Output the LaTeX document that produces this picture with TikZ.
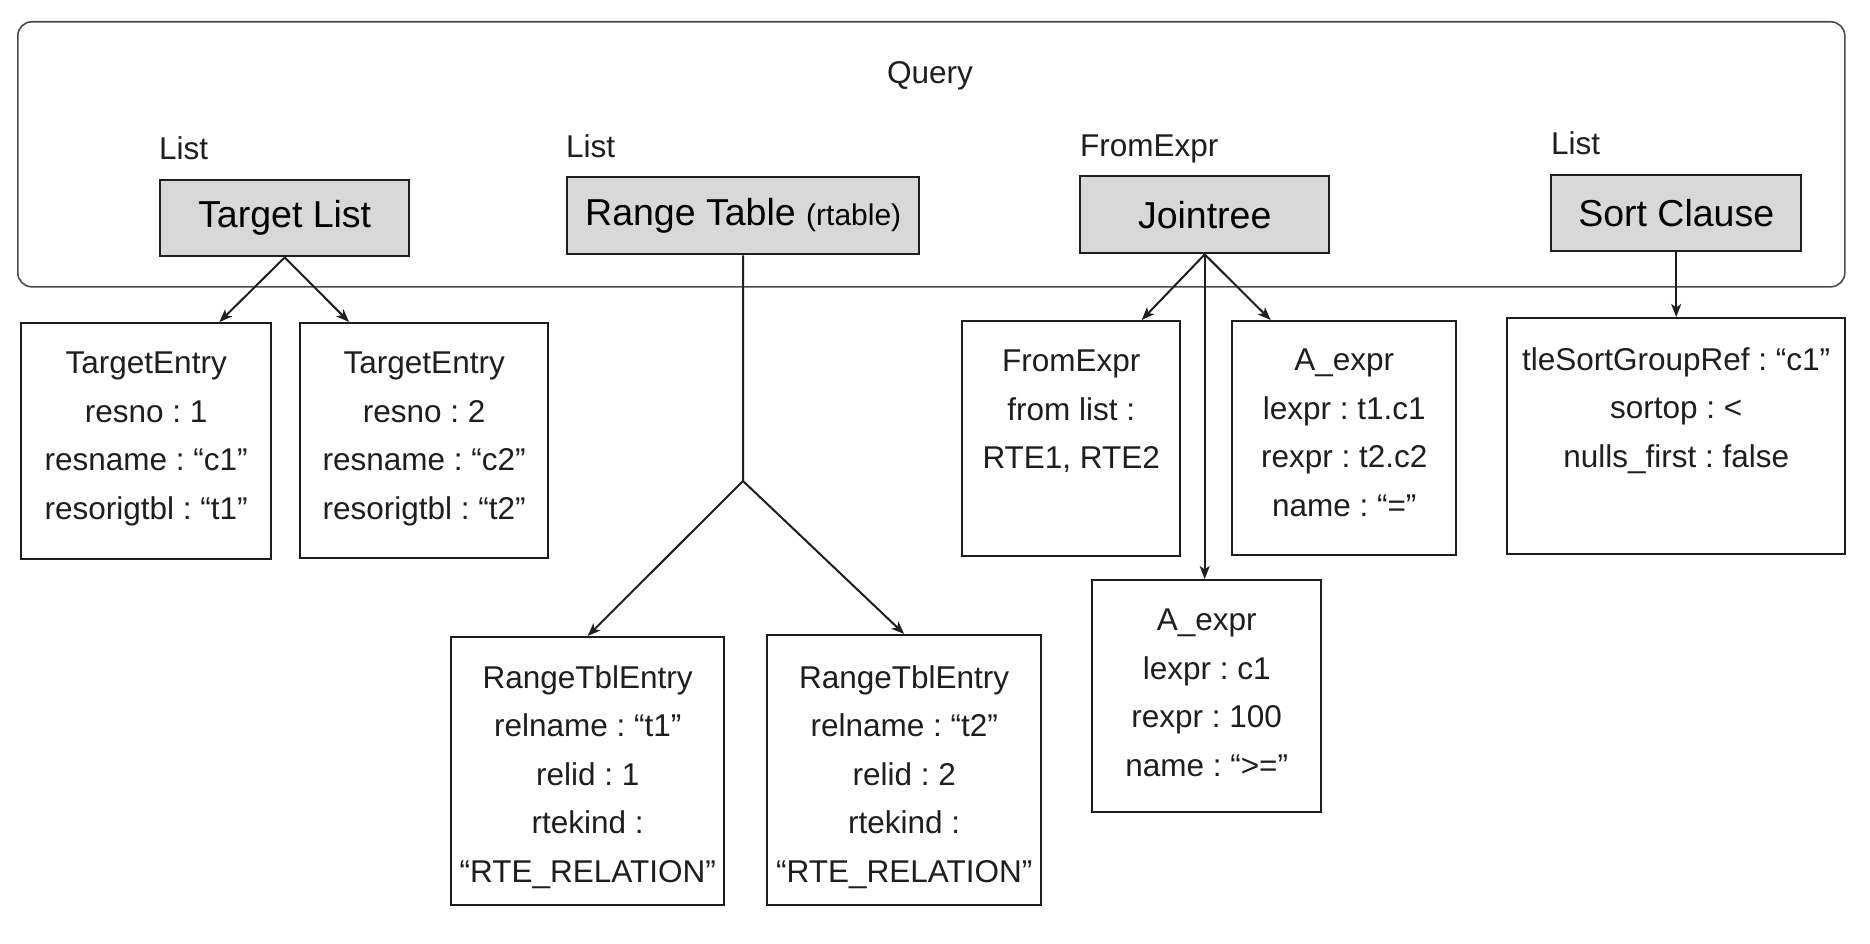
\documentclass[tikz,border=0pt]{standalone}
\usepackage{fontspec}
\setmainfont{Liberation Sans}
\usetikzlibrary{arrows.meta,calc}
\definecolor{boxgrey}{HTML}{D8D8D8}
\definecolor{ink}{HTML}{1E1E1E}
\frenchspacing
\begin{document}
\begin{tikzpicture}[x=1pt,y=-1pt,
  frame/.style={draw=ink!80, line width=1.6pt, rounded corners=14pt, anchor=north west, inner sep=0pt},
  gbox/.style={draw=ink, line width=2.4pt, fill=boxgrey, anchor=north west, inner sep=0pt, font=\fontsize{37.5}{45}\selectfont},
  wbox/.style={draw=ink, line width=2.4pt, fill=white, anchor=north west, inner sep=0pt},
  body/.style={anchor=north, inner sep=0pt, align=center, text=ink, font=\fontsize{31.5}{48.5}\selectfont},
  lbl/.style={inner sep=0pt, text=ink, font=\fontsize{31.5}{38}\selectfont},
  link/.style={line width=2pt, draw=ink},
  arr/.style={link, -{Stealth[length=13pt,width=10pt,inset=3.5pt]}}
]
\useasboundingbox (0,0) rectangle (1870,944);
\fill[white] (0,0) rectangle (1870,944);

% outer Query frame
\node[frame, minimum width=1827pt, minimum height=265pt] (query) at (17,21) {};
\node[lbl, anchor=base] (querylbl) at (930,84) {Query};

% type labels
\node[lbl, anchor=base west] (l1) at (159,160) {List};
\node[lbl, anchor=base west] (l2) at (566,158) {List};
\node[lbl, anchor=base west] (l3) at (1080,157) {FromExpr};
\node[lbl, anchor=base west] (l4) at (1551,155) {List};

% grey boxes
\node[gbox, minimum width=249pt, minimum height=76pt] (tl) at (159,179) {Target List};
\node[gbox, minimum width=352pt, minimum height=77pt] (rt) at (566,176) {Range Table {\fontsize{30}{36}\selectfont(rtable)}};
\node[gbox, minimum width=249pt, minimum height=77pt] (jt) at (1079,175) {Jointree};
\node[gbox, minimum width=250pt, minimum height=76pt] (sc) at (1550,174) {Sort Clause};

% white boxes
\node[wbox, minimum width=250pt, minimum height=236pt] (te1) at (20,322) {};
\node[wbox, minimum width=248pt, minimum height=235pt] (te2) at (299,322) {};
\node[wbox, minimum width=218pt, minimum height=235pt] (fe) at (961,320) {};
\node[wbox, minimum width=224pt, minimum height=234pt] (ae1) at (1231,320) {};
\node[wbox, minimum width=338pt, minimum height=236pt] (sb) at (1506,317) {};
\node[wbox, minimum width=229pt, minimum height=232pt] (ae2) at (1091,579) {};
\node[wbox, minimum width=273pt, minimum height=268pt] (rte1) at (450,636) {};
\node[wbox, minimum width=274pt, minimum height=270pt] (rte2) at (766,634) {};

% box texts
\node[body] (te1t) at ($(te1.north)+(0,30)$) {TargetEntry\\resno : 1\\resname : “c1”\\resorigtbl : “t1”};
\node[body] (te2t) at ($(te2.north)+(0,30)$) {TargetEntry\\resno : 2\\resname : “c2”\\resorigtbl : “t2”};
\node[body] (fet) at ($(fe.north)+(0,30)$) {FromExpr\\from list :\\RTE1, RTE2};
\node[body] (ae1t) at ($(ae1.north)+(0,29)$) {A\_expr\\lexpr : t1.c1\\rexpr : t2.c2\\name : “=”};
\node[body] (sbt) at ($(sb.north)+(0,30)$) {tleSortGroupRef : “c1”\\sortop : <\\nulls\_first : false};
\node[body] (ae2t) at ($(ae2.north)+(0,30)$) {A\_expr\\lexpr : c1\\rexpr : 100\\name : “>=”};
\node[body] (rte1t) at ($(rte1.north)+(0,29)$) {RangeTblEntry\\relname : “t1”\\relid : 1\\rtekind :\\“RTE\_RELATION”};
\node[body] (rte2t) at ($(rte2.north)+(0,31)$) {RangeTblEntry\\relname : “t2”\\relid : 2\\rtekind :\\“RTE\_RELATION”};

% connector end points
\coordinate (te1in) at ($(te1.north west)!0.79!(te1.north east)$);
\coordinate (te2in) at ($(te2.north west)!0.2!(te2.north east)$);
\coordinate (fein) at ($(fe.north west)!0.82!(fe.north east)$);
\coordinate (ae1in) at ($(ae1.north west)!0.175!(ae1.north east)$);
\coordinate (br) at (743,481);

% connectors
\draw[arr] (tl.south) -- (te1in);
\draw[arr] (tl.south) -- (te2in);
\draw[link] (rt.south) -- (br);
\draw[arr] (br) -- (rte1.north);
\draw[arr] (br) -- (rte2.north);
\draw[arr] (jt.south) -- (fein);
\draw[arr] (jt.south) -- (ae1in);
\draw[arr] (jt.south) -- (jt.south |- ae2.north);
\draw[arr] (sc.south) -- (sb.north);
\end{tikzpicture}
\end{document}
